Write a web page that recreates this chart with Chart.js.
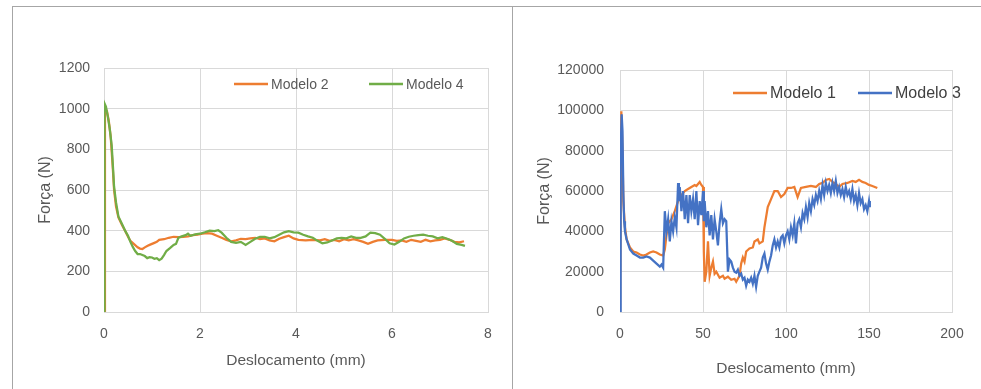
<!DOCTYPE html>
<html>
<head>
<meta charset="utf-8">
<script src="https://cdn.jsdelivr.net/npm/chart.js@4.4.0/dist/chart.umd.min.js"></script>
<style>
body{margin:0;background:#fff;width:981px;height:389px;overflow:hidden;position:relative;font-family:"Liberation Sans",Arial,sans-serif}
.frame{position:absolute;border:1px solid #a6a6a6}
#f1{left:12px;top:6px;width:499px;height:400px}
#f2{left:512px;top:6px;width:480px;height:400px;border-right:none}
canvas{position:absolute}
#c1{left:12px;top:6px}
#c2{left:512px;top:6px}
</style>
</head>
<body>
<div class="frame" id="f1"></div>
<div class="frame" id="f2"></div>
<canvas id="c1" width="500" height="383"></canvas>
<canvas id="c2" width="469" height="383"></canvas>
<script>
// left chart: [deslocamento mm, forca N]
var modelo2 = [[0,0],[0.02,1000],[0.06,990],[0.1,940],[0.14,860],[0.18,720],[0.21,600],[0.25,520],[0.3,465],[0.38,425],[0.45,395],[0.5,370],[0.55,350],[0.62,335],[0.7,318],[0.75,312],[0.8,310],[0.85,318],[0.9,325],[0.95,330],[1.0,335],[1.05,340],[1.1,345],[1.15,355],[1.25,358],[1.35,365],[1.45,370],[1.55,368],[1.65,370],[1.75,372],[1.85,378],[1.95,380],[2.05,385],[2.15,388],[2.25,385],[2.35,375],[2.45,365],[2.55,355],[2.65,348],[2.75,352],[2.85,360],[2.95,358],[3.05,362],[3.15,365],[3.25,358],[3.35,362],[3.45,352],[3.55,348],[3.65,360],[3.75,368],[3.85,375],[3.95,362],[4.05,355],[4.2,352],[4.35,355],[4.5,352],[4.6,358],[4.7,350],[4.8,355],[4.9,348],[5.0,358],[5.1,352],[5.2,358],[5.3,352],[5.4,345],[5.5,335],[5.6,345],[5.7,352],[5.85,355],[6.0,355],[6.1,350],[6.2,352],[6.3,345],[6.4,355],[6.5,350],[6.6,345],[6.7,355],[6.8,348],[6.9,352],[7.0,355],[7.1,362],[7.2,355],[7.3,345],[7.4,342],[7.5,348]];
var modelo4 = [[0,0],[0.01,1026],[0.04,1010],[0.08,960],[0.12,900],[0.16,820],[0.19,700],[0.21,616],[0.25,540],[0.3,470],[0.38,430],[0.45,395],[0.5,375],[0.55,345],[0.6,320],[0.65,300],[0.7,285],[0.75,285],[0.8,280],[0.85,275],[0.9,265],[0.95,270],[1.0,268],[1.05,262],[1.1,265],[1.15,255],[1.2,262],[1.25,280],[1.3,300],[1.38,315],[1.45,330],[1.5,335],[1.55,365],[1.62,372],[1.7,378],[1.75,385],[1.8,375],[1.9,382],[2.0,385],[2.1,392],[2.2,400],[2.3,398],[2.38,402],[2.45,390],[2.55,365],[2.65,345],[2.75,340],[2.85,345],[2.95,330],[3.05,345],[3.15,360],[3.25,370],[3.35,370],[3.45,362],[3.55,368],[3.65,380],[3.75,392],[3.85,398],[3.95,392],[4.05,390],[4.15,380],[4.25,372],[4.35,365],[4.45,350],[4.55,338],[4.65,342],[4.75,352],[4.85,362],[4.95,365],[5.05,362],[5.15,372],[5.25,365],[5.35,365],[5.45,372],[5.55,390],[5.65,388],[5.75,380],[5.85,360],[5.95,338],[6.05,332],[6.15,345],[6.25,362],[6.35,370],[6.45,375],[6.55,378],[6.65,380],[6.75,375],[6.85,372],[6.95,362],[7.05,368],[7.15,360],[7.25,350],[7.35,335],[7.45,330],[7.52,325]];
// right chart
var modelo1 = [[0,0],[0.8,99500],[1.5,80000],[2,55000],[3,42000],[4,36000],[6,32000],[8,30000],[10,29500],[12,28500],[14,28000],[16,28500],[18,29500],[20,30000],[22,29500],[24,28500],[26,28000],[27,31000],[28,38000],[29,44000],[31,46000],[33,50000],[35,55000],[37,58000],[39,60000],[41,61000],[43,62000],[45,63000],[46,62500],[48,64500],[49,63000],[50,62000],[50.5,30000],[51,15000],[52,20000],[53,35000],[54,18000],[55,22000],[56,25000],[57,19000],[58,20000],[60,17000],[62,18000],[63,16500],[65,17500],[67,16000],[69,16500],[70,15000],[72,18000],[73,24000],[74,27000],[75,25000],[76,30000],[78,31500],[80,32000],[81,35000],[83,36000],[84,34000],[86,35000],[87,42000],[89,52000],[91,56000],[93,60000],[95,60000],[97,57000],[99,58500],[101,61500],[103,61500],[105,62000],[107,57000],[109,61500],[112,62000],[115,62500],[118,62000],[120,63500],[122,64000],[124,65500],[126,66000],[128,64500],[130,63500],[132,62000],[134,63500],[137,64000],[140,65000],[142,64500],[144,65500],[146,64500],[148,64000],[150,63000],[152,62500],[155,61500]];
var modelo3 = [[0,0],[0.2,40000],[0.6,80000],[1.0,98000],[1.5,90000],[2,60000],[2.5,45000],[3,40000],[4,36000],[6,31000],[8,29000],[10,28000],[12,27000],[14,27000],[16,27500],[18,27000],[20,25500],[22,24000],[24,22500],[25,23500],[26,22000],[27,50000],[28,40000],[29,46000],[30,35000],[31,45000],[32,40000],[33,47000],[34,42000],[35,64000],[35.5,55000],[36,62000],[37,50000],[38,60000],[39,46000],[40,58000],[41,44000],[42,58000],[43,50000],[44,56000],[45,46000],[46,60000],[47,43000],[48,55000],[49,48000],[50,60000],[50.5,45000],[51,55000],[52,42000],[53,50000],[54,38000],[55,48000],[56,36000],[57,46000],[58,40000],[59,33000],[60,44000],[61,51000],[62,44000],[63,46000],[64,45000],[65,20000],[66,26000],[67,25000],[68,22000],[69,20000],[70,19500],[71,21000],[72,18000],[73,19000],[74,16000],[75,17000],[76,13000],[77,16000],[78,15000],[79,17000],[80,14000],[81,18000],[82,12500],[83,18000],[84,20000],[85,22000],[86,27000],[87,29000],[88,24000],[89,21000],[90,25000],[91,28000],[92,33000],[93,36000],[94,32000],[95,35000],[96,32000],[97,37000],[98,38000],[99,34000],[100,38000],[101,40000],[102,36000],[103,42000],[104,38000],[105,44000],[106,34000],[107,44000],[108,46000],[109,42000],[110,49000],[111,46000],[112,52000],[113,47000],[114,54000],[115,50000],[116,56000],[117,53000],[118,58000],[119,55000],[120,60000],[121,56000],[122,63000],[123,58000],[124,64000],[125,60000],[126,63000],[127,59000],[128,64000],[129,60000],[130,65000],[131,59000],[132,62000],[133,58000],[134,61000],[135,57000],[136,62000],[137,58000],[138,60000],[139,56000],[140,61000],[141,55000],[142,58000],[143,53000],[144,59000],[145,54000],[146,56000],[147,51000],[148,53000],[149,50000],[150,55000],[150.5,52000]];

var xTicksLeft = [0, 2, 4, 6, 8];
var yTicksLeft = [0, 200, 400, 600, 800, 1000, 1200];
var xTicksRight = [0, 50, 100, 150, 200];
var yTicksRight = [0, 20000, 40000, 60000, 80000, 100000, 120000];

var FONT = '"Liberation Sans", Arial, sans-serif';
var GREY = '#595959';

function pts(arr){
    return arr.map(function(p){ return {x: p[0], y: p[1]} })
}

// legend drawn inside the plot area, like the excel one
var innerLegend = {
    id: 'innerLegend',
    afterDatasetsDraw: function(chart, args, opts){
        var ctx = chart.ctx, a = chart.chartArea
        ctx.save()
        ctx.font = opts.size + 'px ' + FONT
        ctx.textBaseline = 'middle'
        chart.data.datasets.forEach(function(ds, i){
            var x = a.left + opts.at[i], y = a.top + opts.dy
            ctx.strokeStyle = ds.borderColor
            ctx.lineWidth = 2.5
            ctx.beginPath()
            ctx.moveTo(x, y)
            ctx.lineTo(x + 34, y)
            ctx.stroke()
            ctx.fillStyle = opts.color
            ctx.fillText(ds.label, x + 37, y + 1)
        })
        ctx.restore()
    }
}

function axes(xt, yt, yw, xh, xpad, ypad){
    var grid = {color: '#d9d9d9', drawTicks: false}
    return {
        x: {
            type: 'linear', min: xt[0], max: xt[xt.length - 1],
            afterBuildTicks: function(s){ s.ticks = xt.map(function(v){ return {value: v} }) },
            afterFit: function(s){ s.height = xh },
            grid: grid, border: {color: '#d9d9d9'},
            ticks: {color: GREY, font: {family: FONT, size: 14}, padding: xpad, callback: function(v){ return String(v) }},
            title: {display: true, text: 'Deslocamento (mm)', color: GREY, font: {family: FONT, size: 15.5}}
        },
        y: {
            min: yt[0], max: yt[yt.length - 1],
            afterBuildTicks: function(s){ s.ticks = yt.map(function(v){ return {value: v} }) },
            afterFit: function(s){ s.width = yw },
            grid: grid, border: {color: '#d9d9d9'},
            ticks: {color: GREY, font: {family: FONT, size: 14}, padding: ypad, callback: function(v){ return String(v) }},
            title: {display: true, text: 'Força (N)', color: GREY, font: {family: FONT, size: 16}}
        }
    }
}

function line(label, data, color, order){
    return {label: label, data: pts(data), borderColor: color, backgroundColor: color,
            borderWidth: 2.25, pointRadius: 0, tension: 0, order: order}
}

new Chart(document.getElementById('c1').getContext('2d'), {
    type: 'line',
    data: {datasets: [line('Modelo 2', modelo2, '#ED7D31', 2), line('Modelo 4', modelo4, '#70AD47', 1)]},
    options: {
        responsive: false, animation: false,
        layout: {padding: {left: 20, right: 24, top: 62, bottom: 15}},
        scales: axes(xTicksLeft, yTicksLeft, 72, 62, 14, 14),
        plugins: {legend: {display: false}, tooltip: {enabled: false},
                  innerLegend: {at: [130, 265], dy: 16, size: 14, color: GREY}}
    },
    plugins: [innerLegend]
})

new Chart(document.getElementById('c2').getContext('2d'), {
    type: 'line',
    data: {datasets: [line('Modelo 1', modelo1, '#ED7D31', 2), line('Modelo 3', modelo3, '#4472C4', 1)]},
    options: {
        responsive: false, animation: false,
        layout: {padding: {left: 19, right: 29, top: 64, bottom: 7}},
        scales: axes(xTicksRight, yTicksRight, 89, 70, 14, 16),
        plugins: {legend: {display: false}, tooltip: {enabled: false},
                  innerLegend: {at: [113, 238], dy: 23, size: 16, color: '#404040'}}
    },
    plugins: [innerLegend]
})
</script>
</body>
</html>
